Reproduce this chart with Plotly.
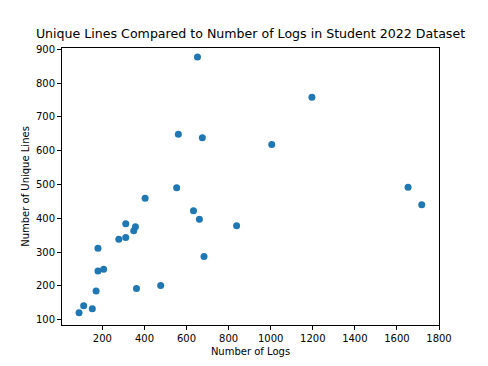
import plotly.graph_objects as go

# logs vs unique lines
num_logs = [89, 111, 152, 170, 179, 206, 179, 278, 311, 311, 349, 357, 362, 403,
            477, 553, 633, 661, 683, 838, 1005, 1196, 1653, 1718, 652, 561, 675]
unique_lines = [120, 141, 132, 185, 244, 249, 311, 338, 343, 384, 363, 375, 192, 459,
                201, 490, 422, 397, 287, 378, 618, 758, 492, 440, 877, 649, 638]

x_ticks = [200, 400, 600, 800, 1000, 1200, 1400, 1600, 1800]
y_ticks = [100, 200, 300, 400, 500, 600, 700, 800, 900]

fig = go.Figure(go.Scatter(
    x=num_logs, y=unique_lines, mode="markers",
    marker=dict(color="#1f77b4", size=7, line=dict(width=0)),
))

axis_style = dict(showline=True, linecolor="black", linewidth=1, mirror=True,
                  showgrid=False, zeroline=False, ticks="outside", ticklen=4,
                  tickcolor="black", tickfont=dict(size=10, color="black"),
                  automargin=False)

# page body has an 8px margin, so the figure is a bit smaller than the window
W, H = 480, 358
fig.update_layout(
    width=W, height=H,
    margin=dict(l=54, r=49, t=40, b=41),
    paper_bgcolor="white", plot_bgcolor="white",
    font=dict(family="DejaVu Sans", color="black"),
    showlegend=False,
    title=dict(text="Unique Lines Compared to Number of Logs in Student 2022 Dataset",
               x=242.5 / W, xanchor="center", y=1 - 26 / H, yanchor="middle",
               font=dict(size=12.6)),
    xaxis=dict(range=[8, 1800], tickvals=x_ticks, title=dict(text="Number of Logs", font=dict(size=10), standoff=4), **axis_style),
    yaxis=dict(range=[84, 904], tickvals=y_ticks, title=dict(text="Number of Unique Lines", font=dict(size=10), standoff=4), **axis_style),
)

fig.write_html("out.html")
